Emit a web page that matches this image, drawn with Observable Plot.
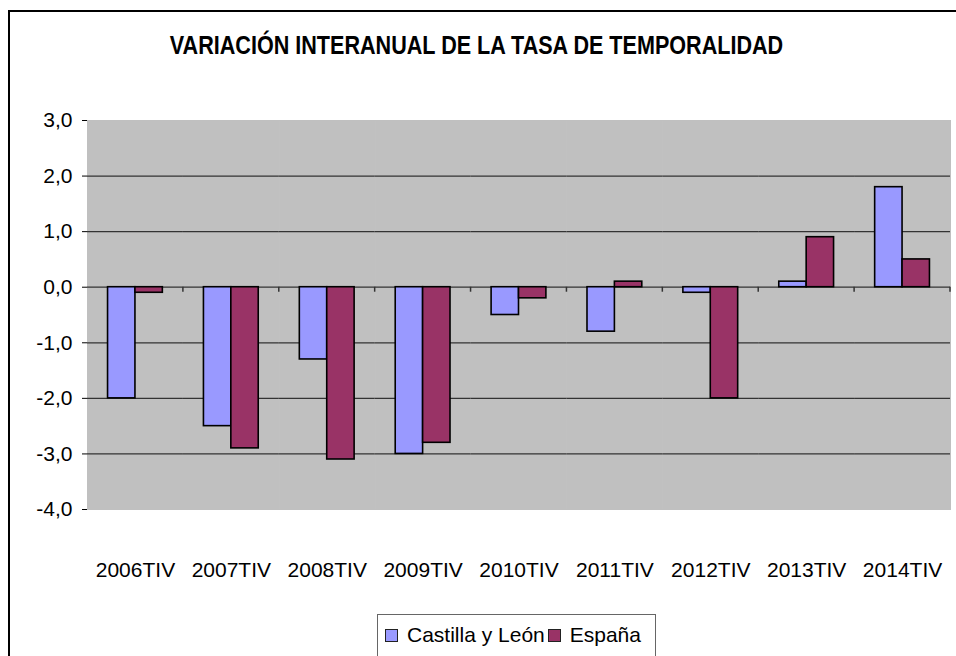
<!DOCTYPE html>
<html>
<head>
<meta charset="utf-8">
<script src="https://cdn.jsdelivr.net/npm/d3@7"></script>
<script src="https://cdn.jsdelivr.net/npm/@observablehq/plot@0.6"></script>
<style>
  html, body { margin: 0; padding: 0; background: #fff; }
  #wrap { position: relative; width: 956px; height: 656px; overflow: hidden; background: #fff; }
  #border { position: absolute; left: 8px; top: 10px; width: 1000px; height: 700px; border: 2px solid #000; box-sizing: border-box; }
  #title { position: absolute; left: 0; top: 32px; width: 953px; text-align: center;
    font-family: "Liberation Sans", Arial, sans-serif; font-weight: bold;
    font-size: 26px; line-height: 26px; color: #000; white-space: nowrap;
    transform: scaleX(0.83); transform-origin: 50% 50%; }
  #chart { position: absolute; left: 0; top: 0; }
  #legend { position: absolute; left: 377px; top: 614px; width: 279px; height: 60px; box-sizing: border-box;
    border: 1px solid #666; background: #fff; font-family: "Liberation Sans", Arial, sans-serif; font-size: 21px;
    display: flex; align-items: flex-start; padding: 8px 0 0 7px; line-height: 24px; white-space: nowrap; }
  .item { display: flex; align-items: center; margin-right: 3px; white-space: nowrap; flex: none; }
  .sw { width: 11px; height: 11px; border: 1px solid #222; margin-right: 9px; flex: none; }
</style>
</head>
<body>
<div id="wrap">
  <div id="border"></div>
  <div id="chart"></div>
  <div id="title"></div>
  <div id="legend"></div>
</div>
<script>
const titleText = "VARIACIÓN INTERANUAL DE LA TASA DE TEMPORALIDAD";
const categories = ["2006TIV", "2007TIV", "2008TIV", "2009TIV", "2010TIV", "2011TIV", "2012TIV", "2013TIV", "2014TIV"];
const series = ["Castilla y León", "España"];
const castillaLeon = [-2.0, -2.5, -1.3, -3.0, -0.5, -0.8, -0.1, 0.1, 1.8];
const espana = [-0.1, -2.9, -3.1, -2.8, -0.2, 0.1, -2.0, 0.9, 0.5];
const yTicks = [3, 2, 1, 0, -1, -2, -3, -4];
const gridTicks = [2, 1, 0, -1, -2, -3];
const colors = ["#9999ff", "#993366"];

const rows = [];
categories.forEach((c, i) => {
  rows.push({cat: c, series: series[0], value: castillaLeon[i]});
  rows.push({cat: c, series: series[1], value: espana[i]});
});

// small category-boundary ticks hanging below the zero axis (one per facet, at its right edge)
function boundaryTicks(index, scales, values, dimensions) {
  const g = d3.create("svg:g");
  try {
    const r = scales.x.range();
    const xr = Math.max(r[0], r[1]);
    const y0 = scales.y(0);
    g.append("line").attr("x1", xr).attr("x2", xr).attr("y1", y0).attr("y2", y0 + 5)
      .attr("stroke", "#333").attr("stroke-width", 1.5);
  } catch (e) {}
  return g.node();
}

const chart = Plot.plot({
  width: 956,
  height: 656,
  marginLeft: 87,
  marginRight: 6,
  marginTop: 120,
  marginBottom: 147,
  style: {fontFamily: "Liberation Sans, Arial, sans-serif", fontSize: "21px", background: "transparent", color: "#000"},
  facet: {data: rows, x: "cat"},
  fx: {domain: categories, padding: 0, round: false, axis: "bottom", tickSize: 0, tickPadding: 53, label: null},
  x: {domain: series, paddingInner: 0, paddingOuter: 0.75, round: false, axis: null},
  y: {domain: [-4, 3], ticks: yTicks, tickFormat: d => d.toFixed(1).replace(".", ","), tickSize: 5, tickPadding: 10, line: true, label: null},
  color: {domain: series, range: colors},
  marks: [
    Plot.frame({fill: "#c0c0c0", stroke: "#c0c0c0", strokeWidth: 1}),
    Plot.ruleY(gridTicks, {stroke: "#333", strokeWidth: 1.2}),
    Plot.barY(rows, {x: "series", y: "value", fill: "series", stroke: "#000", strokeWidth: 1.6}),
    boundaryTicks
  ]
});
document.getElementById("chart").appendChild(chart);
document.getElementById("title").textContent = titleText;

const legend = document.getElementById("legend");
series.forEach((s, i) => {
  const item = document.createElement("div");
  item.className = "item";
  const sw = document.createElement("div");
  sw.className = "sw";
  sw.style.background = colors[i];
  const t = document.createElement("span");
  t.textContent = s;
  item.appendChild(sw);
  item.appendChild(t);
  legend.appendChild(item);
});
</script>
</body>
</html>
